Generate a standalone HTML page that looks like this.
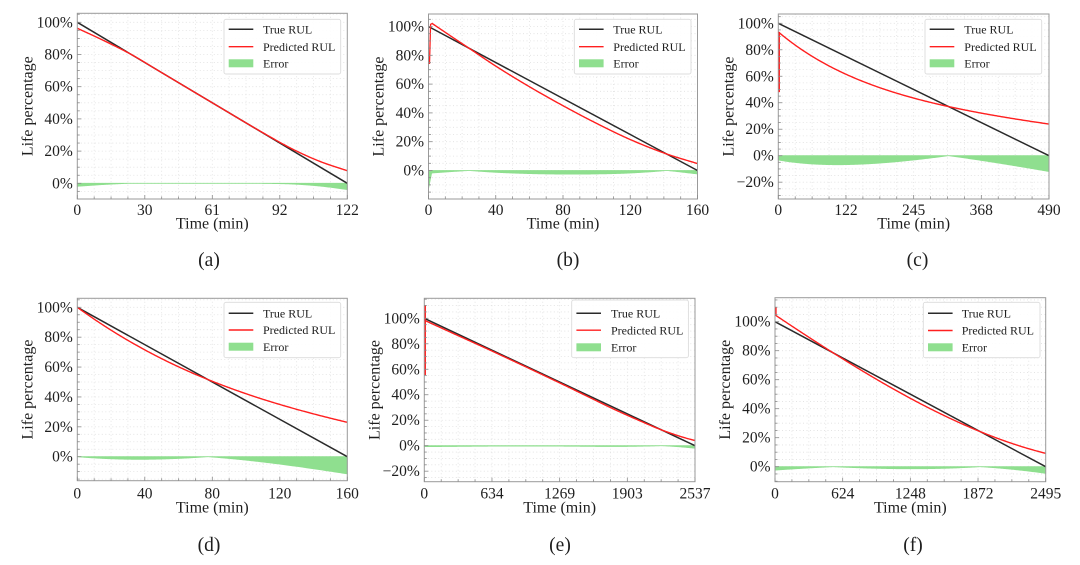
<!DOCTYPE html>
<html><head><meta charset="utf-8">
<style>
html,body{margin:0;padding:0;background:#fff;}
svg{display:block;}
text{font-family:"Liberation Serif","Times New Roman",serif;fill:#1e1e1e;}
.ty{font-size:15.5px;text-anchor:end;}
.tx{font-size:15.5px;text-anchor:middle;}
.al{font-size:16px;text-anchor:middle;}
.lg{font-size:12px;}
.cap{font-size:19.5px;text-anchor:middle;}
</style></head><body>
<svg id="s" width="1080" height="565" viewBox="0 0 1080 565" xmlns="http://www.w3.org/2000/svg">
<rect x="0" y="0" width="1080" height="565" fill="#fff"/>
<g id="plots"></g>
<g id="texts">
<!-- Panel a -->
<text class="ty" x="72.8" y="27.3">100%</text>
<text class="ty" x="72.8" y="59.5">80%</text>
<text class="ty" x="72.8" y="91.7">60%</text>
<text class="ty" x="72.8" y="123.9">40%</text>
<text class="ty" x="72.8" y="156.1">20%</text>
<text class="ty" x="72.8" y="188.3">0%</text>
<text class="tx" x="77.3" y="215">0</text>
<text class="tx" x="144.8" y="215">30</text>
<text class="tx" x="212.3" y="215">61</text>
<text class="tx" x="279.8" y="215">92</text>
<text class="tx" x="347.3" y="215">122</text>
<text class="al" x="212.3" y="228.5">Time (min)</text>
<text class="al" transform="translate(32.3,106.2) rotate(-90)">Life percentage</text>
<text class="cap" x="209" y="266">(a)</text>
<text class="lg" x="263" y="33.5">True RUL</text>
<text class="lg" x="263" y="50.9">Predicted RUL</text>
<text class="lg" x="263" y="67.5">Error</text>

<!-- Panel b -->
<text class="ty" x="424" y="31.5">100%</text>
<text class="ty" x="424" y="60.3">80%</text>
<text class="ty" x="424" y="89.1">60%</text>
<text class="ty" x="424" y="117.9">40%</text>
<text class="ty" x="424" y="146.7">20%</text>
<text class="ty" x="424" y="175.5">0%</text>
<text class="tx" x="428.5" y="215">0</text>
<text class="tx" x="495.75" y="215">40</text>
<text class="tx" x="563" y="215">80</text>
<text class="tx" x="630.25" y="215">120</text>
<text class="tx" x="697.5" y="215">160</text>
<text class="al" x="563" y="228.5">Time (min)</text>
<text class="al" transform="translate(383.5,106.5) rotate(-90)">Life percentage</text>
<text class="cap" x="568" y="266">(b)</text>
<text class="lg" x="613.3" y="33.5">True RUL</text>
<text class="lg" x="613.3" y="50.9">Predicted RUL</text>
<text class="lg" x="613.3" y="67.5">Error</text>

<!-- Panel c -->
<text class="ty" x="773.8" y="28.3">100%</text>
<text class="ty" x="773.8" y="54.8">80%</text>
<text class="ty" x="773.8" y="81.3">60%</text>
<text class="ty" x="773.8" y="107.7">40%</text>
<text class="ty" x="773.8" y="134.2">20%</text>
<text class="ty" x="773.8" y="160.7">0%</text>
<text class="ty" x="773.8" y="187.2">−20%</text>
<text class="tx" x="778.3" y="215">0</text>
<text class="tx" x="846" y="215">122</text>
<text class="tx" x="913.65" y="215">245</text>
<text class="tx" x="981.3" y="215">368</text>
<text class="tx" x="1049" y="215">490</text>
<text class="al" x="913.65" y="228.5">Time (min)</text>
<text class="al" transform="translate(733.3,106.5) rotate(-90)">Life percentage</text>
<text class="cap" x="917.5" y="266">(c)</text>
<text class="lg" x="964.3" y="33.5">True RUL</text>
<text class="lg" x="964.3" y="50.9">Predicted RUL</text>
<text class="lg" x="964.3" y="67.5">Error</text>

<!-- Panel d -->
<text class="ty" x="72.8" y="312.3">100%</text>
<text class="ty" x="72.8" y="342.2">80%</text>
<text class="ty" x="72.8" y="372.1">60%</text>
<text class="ty" x="72.8" y="401.9">40%</text>
<text class="ty" x="72.8" y="431.8">20%</text>
<text class="ty" x="72.8" y="461.7">0%</text>
<text class="tx" x="77.3" y="498.5">0</text>
<text class="tx" x="144.8" y="498.5">40</text>
<text class="tx" x="212.3" y="498.5">80</text>
<text class="tx" x="279.8" y="498.5">120</text>
<text class="tx" x="347.3" y="498.5">160</text>
<text class="al" x="212.3" y="512.5">Time (min)</text>
<text class="al" transform="translate(32.3,389.5) rotate(-90)">Life percentage</text>
<text class="cap" x="209" y="551">(d)</text>
<text class="lg" x="263" y="317.5">True RUL</text>
<text class="lg" x="263" y="334.2">Predicted RUL</text>
<text class="lg" x="263" y="350.9">Error</text>

<!-- Panel e -->
<text class="ty" x="419.8" y="323.3">100%</text>
<text class="ty" x="419.8" y="348.8">80%</text>
<text class="ty" x="419.8" y="374.3">60%</text>
<text class="ty" x="419.8" y="399.7">40%</text>
<text class="ty" x="419.8" y="425.2">20%</text>
<text class="ty" x="419.8" y="450.7">0%</text>
<text class="ty" x="419.8" y="476.2">−20%</text>
<text class="tx" x="424.3" y="498.5">0</text>
<text class="tx" x="492" y="498.5">634</text>
<text class="tx" x="559.65" y="498.5">1269</text>
<text class="tx" x="627.3" y="498.5">1903</text>
<text class="tx" x="695" y="498.5">2537</text>
<text class="al" x="559.65" y="512.5">Time (min)</text>
<text class="al" transform="translate(379.3,390) rotate(-90)">Life percentage</text>
<text class="cap" x="560" y="551">(e)</text>
<text class="lg" x="611" y="317.5">True RUL</text>
<text class="lg" x="611" y="334.4">Predicted RUL</text>
<text class="lg" x="611" y="351.5">Error</text>

<!-- Panel f -->
<text class="ty" x="770.5" y="326.7">100%</text>
<text class="ty" x="770.5" y="355.7">80%</text>
<text class="ty" x="770.5" y="384.7">60%</text>
<text class="ty" x="770.5" y="413.7">40%</text>
<text class="ty" x="770.5" y="442.7">20%</text>
<text class="ty" x="770.5" y="471.7">0%</text>
<text class="tx" x="775" y="498.5">0</text>
<text class="tx" x="842.7" y="498.5">624</text>
<text class="tx" x="910.35" y="498.5">1248</text>
<text class="tx" x="978" y="498.5">1872</text>
<text class="tx" x="1045.7" y="498.5">2495</text>
<text class="al" x="910.35" y="512.5">Time (min)</text>
<text class="al" transform="translate(730,389.7) rotate(-90)">Life percentage</text>
<text class="cap" x="913" y="551">(f)</text>
<text class="lg" x="961.7" y="317.5">True RUL</text>
<text class="lg" x="961.7" y="334.7">Predicted RUL</text>
<text class="lg" x="961.7" y="351.5">Error</text>
</g>
</svg>
<script>
(function(){
const NS="http://www.w3.org/2000/svg";
const G=document.getElementById('plots');
function el(tag,attrs,parent){const e=document.createElementNS(NS,tag);for(const k in attrs)e.setAttribute(k,attrs[k]);(parent||G).appendChild(e);return e;}
function mono(pts){
 const n=pts.length,xs=pts.map(p=>p[0]),ys=pts.map(p=>p[1]);
 const d=[],m=new Array(n);
 for(let i=0;i<n-1;i++)d.push((ys[i+1]-ys[i])/(xs[i+1]-xs[i]));
 m[0]=d[0];m[n-1]=d[n-2];
 for(let i=1;i<n-1;i++)m[i]=(d[i-1]*d[i]<=0)?0:(d[i-1]+d[i])/2;
 for(let i=0;i<n-1;i++){if(d[i]===0){m[i]=0;m[i+1]=0;continue;}const a=m[i]/d[i],b=m[i+1]/d[i],s=a*a+b*b;if(s>9){const t=3/Math.sqrt(s);m[i]=t*a*d[i];m[i+1]=t*b*d[i];}}
 return function(x){let i=0;while(i<n-2&&x>xs[i+1])i++;const h=xs[i+1]-xs[i],t=(x-xs[i])/h,t2=t*t,t3=t2*t;
  return (2*t3-3*t2+1)*ys[i]+(t3-2*t2+t)*h*m[i]+(-2*t3+3*t2)*ys[i+1]+(t3-t2)*h*m[i+1];};
}
const GREEN="#8fdf8f", RED="#ff1f1f", BLACK="#2a2a2a";
const P=[
 {L:77.3,R:347.3,T:13.3,B:199,y100:22.3,y0:183.3,
  pred:[[0,96.3],[0.1,88.5],[0.2,80],[0.3,70],[0.5,50],[0.7,30.2],[0.8,21],[0.9,13.5],[1,7.8]],
  leg:{x:224,y:19.3,h:54.7,r:[29.3,46.7,63.3]}},
 {L:428.5,R:697.5,T:14,B:199,y100:26.5,y0:170.5,
  pred:[[0.012,102.3],[0.05,97.5],[0.1,91.2],[0.15,85],[0.25,72.5],[0.375,58.2],[0.5,45],[0.625,32.7],[0.75,21.5],[0.885,11.5],[1,4.8]],
  spike:[[0,74],[0.004,101.5],[0.012,102.3]], fspike:true,
  leg:{x:574.3,y:19.3,h:54.7,r:[29.3,46.7,63.3]}},
 {L:778.3,R:1049,T:14,B:199,y100:23.3,y0:155.7,
  t0:0, fn:t=>43.2+50.3*Math.exp(-3*t)-21.8*t,
  spike:[[0,48],[0,93.5]],
  leg:{x:925,y:19.3,h:54.7,r:[29.3,46.7,63.3]}},
 {L:77.3,R:347.3,T:298.3,B:480.7,y100:307.3,y0:456.7,
  t0:0, fn:t=>100-100*t-20.8*t*(t-0.483)*(t-3.14),
  leg:{x:224,y:302.3,h:55.4,r:[313.3,330,346.7]}},
 {L:424.3,R:695,T:298.3,B:481.7,y100:318.3,y0:445.7,
  pred:[[0,98.5],[0.1,88.8],[0.25,74.3],[0.5,49.3],[0.6,39],[0.7,28.7],[0.8,19.2],[0.875,12.5],[0.95,7],[1,4]],
  spike:[[0,55.5],[0,110.4]],
  leg:{x:571.7,y:300,h:57.7,r:[313.3,330.2,347.3]}},
 {L:775,R:1045.7,T:297.7,B:481.7,y100:321.7,y0:466.7,
  t0:0, fn:t=>100-100*t+18.4*(t-0.214)*(t-0.781)*(t+1.53)+1.2*t*t*t,
  spike:[[0,104.7],[0,110]],
  leg:{x:923.3,y:302.3,h:55.4,r:[313.3,330.5,347.3]}}
];
P.forEach(p=>{
 const X=t=>p.L+(p.R-p.L)*t, Y=v=>p.y0+(p.y100-p.y0)*v/100;
 const pxPer=(p.y0-p.y100)/100;
 const vBot=-(p.B-p.y0)/pxPer, vTop=(p.y0-p.T)/pxPer;
 const gg=el('g',{});
 // grid
 for(let i=1;i<16;i++){const x=X(i/16);el('line',{x1:x,x2:x,y1:p.T,y2:p.B,stroke:"#e0e0e0","stroke-width":0.8,"stroke-dasharray":"1 2.5"},gg);}
 for(let v=Math.ceil(vBot/5)*5;v<=vTop;v+=5){const y=Y(v);if(y<=p.T+0.5||y>=p.B-0.5)continue;el('line',{x1:p.L,x2:p.R,y1:y,y2:y,stroke:"#e0e0e0","stroke-width":0.8,"stroke-dasharray":"1 2.5"},gg);}
 // fill
 const f=p.fn?p.fn:mono(p.pred), t0=p.fn?p.t0:p.pred[0][0], N=300;
 let top=[],bot=[];
 for(let k=0;k<=N;k++){const t=t0+(1-t0)*k/N;const e=Math.abs(f(t)-(100-100*t))/2;top.push(X(t).toFixed(2)+","+Y(0).toFixed(2));bot.push(X(t).toFixed(2)+","+Y(-e).toFixed(2));}
 el('polygon',{points:top.concat(bot.reverse()).join(" "),fill:GREEN,stroke:GREEN,"stroke-width":0.8},gg);
 if(p.fspike){
  const e1=Math.abs(102.3-(100-100*t0))/2;
  el('polygon',{points:[X(0),Y(0),X(0),Y(-13),X(t0),Y(-e1),X(t0),Y(0)].join(" "),fill:GREEN,stroke:GREEN,"stroke-width":0.6},gg);
 }
 // true line
 el('line',{x1:X(0),y1:Y(100),x2:X(1),y2:Y(0),stroke:BLACK,"stroke-width":1.5},gg);
 // pred
 let pts=[];
 for(let k=0;k<=N;k++){const t=t0+(1-t0)*k/N;pts.push(X(t).toFixed(2)+","+Y(f(t)).toFixed(2));}
 el('polyline',{points:pts.join(" "),fill:"none",stroke:RED,"stroke-width":1.4,"stroke-linejoin":"round"},gg);
 // frame
 el('rect',{x:p.L,y:p.T,width:p.R-p.L,height:p.B-p.T,fill:"none",stroke:"#9a9a9a","stroke-width":1},gg);
 if(p.spike){
  const sp=p.spike.map(q=>(X(q[0])+1).toFixed(2)+","+Y(q[1]).toFixed(2)).join(" ");
  el('polyline',{points:sp,fill:"none",stroke:RED,"stroke-width":1.3},gg);
 }
 // ticks
 for(let i=0;i<=16;i++){const x=X(i/16);const len=(i%4===0)?4:2.5;el('line',{x1:x,x2:x,y1:p.B,y2:p.B-len,stroke:"#8a8a8a","stroke-width":0.8},gg);}
 for(let v=Math.ceil(vBot/5)*5;v<=vTop;v+=5){const y=Y(v);const len=(v%20===0)?4:2.5;el('line',{x1:p.L,x2:p.L+len,y1:y,y2:y,stroke:"#8a8a8a","stroke-width":0.8},gg);}
 // legend
 const l=p.leg;
 el('rect',{x:l.x,y:l.y,width:116.7,height:l.h,rx:2,fill:"#fff","fill-opacity":0.9,stroke:"#dcdcdc","stroke-width":0.9},gg);
 el('line',{x1:l.x+4.7,x2:l.x+29.3,y1:l.r[0],y2:l.r[0],stroke:BLACK,"stroke-width":1.5},gg);
 el('line',{x1:l.x+4.7,x2:l.x+29.3,y1:l.r[1],y2:l.r[1],stroke:RED,"stroke-width":1.4},gg);
 el('rect',{x:l.x+4.7,y:l.r[2]-4,width:24.6,height:8,fill:GREEN},gg);
});
})();
</script>
</body></html>
